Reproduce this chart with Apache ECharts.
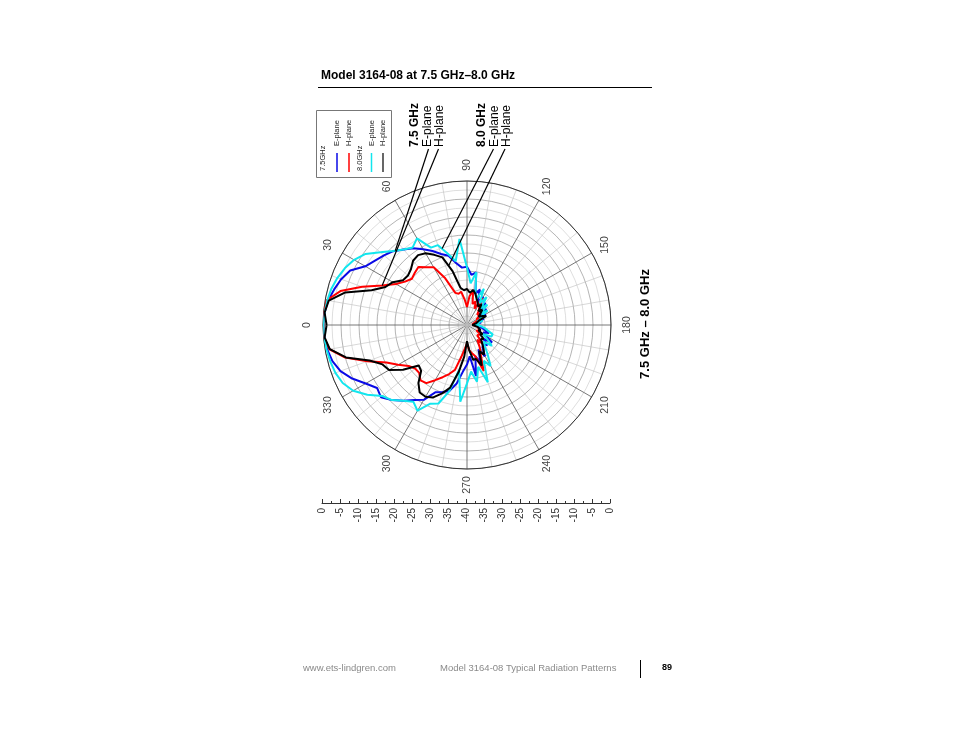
<!DOCTYPE html>
<html><head><meta charset="utf-8">
<script src="https://cdn.jsdelivr.net/npm/echarts@6/dist/echarts.min.js"></script>
<style>html,body{margin:0;padding:0;background:#fff}#c{width:954px;height:738px}</style>
</head><body><div id="c"></div>
<script>
// Angles (degrees) of the measured points, 0..360 in 5 degree steps
const angles = [];
for (let a = 0; a <= 360; a += 5) angles.push(a);

// 7.5 GHz E-plane (dB)
const e75 = [-0.1,-0.3,-0.8,-1.8,-2.8,-4.2,-7.4,-8.8,-9.9,-11.0,-12.6,-14.0,-15.7,-17.3,-19.0,-20.1,-22.5,-24.0,
  -23.8,-26.0,-25.2,-31.0,-29.5,-33.0,-31.0,-34.0,-32.0,-35.0,-33.0,-35.5,-34.0,-36.0,-35.0,-37.0,-36.0,-38.0,
  -38.5,-37.0,-36.0,-35.0,-33.5,-35.0,-34.0,-31.5,-34.0,-32.0,-33.0,-32.5,-30.0,-32.5,-29.0,-31.0,-25.6,-31.3,
  -29.0,-27.0,-23.5,-21.0,-20.2,-19.4,-16.0,-14.6,-12.5,-10.5,-8.8,-9.5,-7.5,-4.8,-2.6,-1.3,-0.6,-0.3,-0.1];
// 7.5 GHz H-plane (dB)
const h75 = [-0.1,-0.1,-0.4,-3.6,-9.0,-14.0,-17.2,-19.0,-20.0,-19.5,-19.0,-20.4,-21.5,-25.7,-30.5,-31.0,-30.6,-33.0,
  -35.0,-32.0,-30.2,-34.0,-33.0,-35.0,-31.4,-34.0,-35.0,-36.0,-35.0,-36.2,-37.0,-36.0,-37.5,-37.0,-38.0,-38.5,
  -39.0,-38.0,-37.0,-36.5,-37.0,-36.0,-37.0,-35.5,-35.2,-36.0,-33.0,-35.0,-33.0,-31.0,-26.4,-31.0,-32.0,-33.0,
  -34.9,-33.5,-31.1,-27.1,-25.5,-24.0,-22.3,-20.3,-19.9,-21.2,-21.2,-20.2,-17.9,-15.3,-10.5,-5.0,-1.2,-0.1,-0.1];
// 8.0 GHz E-plane (dB)
const e80 = [-0.1,-0.3,-0.6,-1.0,-1.7,-2.6,-3.8,-5.6,-8.6,-10.9,-12.6,-13.7,-12.2,-16.3,-16.4,-19.5,-22.0,-16.0,
  -24.0,-28.4,-25.1,-31.0,-32.2,-28.9,-33.0,-30.5,-34.0,-32.0,-35.0,-33.0,-36.0,-34.5,-37.0,-35.5,-37.5,-36.5,
  -38.0,-36.0,-35.0,-34.0,-32.4,-32.5,-35.0,-33.0,-31.0,-33.5,-32.2,-30.0,-26.9,-29.0,-23.1,-28.0,-24.0,-27.0,
  -23.8,-18.6,-27.3,-20.9,-16.8,-15.9,-12.5,-14.0,-12.5,-10.5,-9.3,-6.2,-3.5,-1.9,-1.1,-0.7,-0.4,-0.2,-0.1];
// 8.0 GHz H-plane (dB)
const h80 = [-1.0,-0.3,-1.0,-5.0,-11.8,-15.0,-16.2,-18.3,-18.6,-18.0,-16.7,-16.3,-17.0,-18.5,-20.0,-24.5,-29.5,-30.3,
  -30.0,-31.0,-30.1,-31.0,-32.2,-33.0,-34.0,-33.0,-35.0,-34.0,-34.2,-36.0,-35.0,-34.1,-36.5,-37.0,-37.5,-38.0,
  -38.5,-38.0,-37.0,-37.5,-36.0,-36.5,-35.0,-35.5,-34.0,-34.5,-33.5,-32.0,-30.5,-32.0,-28.0,-30.2,-30.2,-33.0,
  -35.5,-31.2,-26.8,-22.0,-19.8,-17.8,-17.0,-17.1,-19.0,-22.0,-22.5,-18.3,-15.0,-14.1,-11.2,-5.2,-1.3,-0.3,-1.0];

// Tick labels
const angleLabels = ['0','30','60','90','120','150','180','210','240','270','300','330'];
const angleTickValues = [0,30,60,90,120,150,180,210,240,270,300,330];
const scaleLabels = ['0','-5','-10','-15','-20','-25','-30','-35','-40','-35','-30','-25','-20','-15','-10','-5','0'];

const FONT = '"Liberation Sans", Arial, sans-serif';
const CX = 467, CY = 325, R = 144;

const chart = echarts.init(document.getElementById('c'), null, {renderer: 'canvas'});

function mk(name, vals, color, z) {
  return {
    name, type: 'line', coordinateSystem: 'polar', polarIndex: 0,
    data: angles.map((a, i) => [vals[i], a]),
    showSymbol: false, symbol: 'none', smooth: false, z,
    lineStyle: {color, width: 2}, animation: false, silent: true
  };
}

chart.setOption({
  animation: false,
  backgroundColor: '#fff',
  polar: {center: [CX, CY], radius: R},
  angleAxis: {
    type: 'value', min: 0, max: 360, interval: 30, startAngle: 180, clockwise: true,
    axisLine: {lineStyle: {color: '#333', width: 1}},
    axisTick: {show: false}, axisLabel: {show: false},
    splitLine: {show: true, lineStyle: {color: '#555', width: 0.8}},
    minorTick: {show: false, splitNumber: 3},
    minorSplitLine: {show: true, lineStyle: {color: '#bdbdbd', width: 0.6}}
  },
  radiusAxis: {
    type: 'value', min: -40, max: 0, interval: 5,
    axisLine: {show: false}, axisTick: {show: false}, axisLabel: {show: false},
    splitLine: {show: true, lineStyle: {color: '#949494', width: 0.7}},
    minorTick: {show: false, splitNumber: 2},
    minorSplitLine: {show: true, lineStyle: {color: '#c8c8c8', width: 0.6}}
  },
  grid: {left: 322, width: 288, top: 502, height: 1},
  xAxis: {
    type: 'value', min: 0, max: 80, interval: 5, position: 'bottom',
    axisLine: {lineStyle: {color: '#333', width: 1}},
    axisTick: {inside: true, length: 4, lineStyle: {color: '#333'}},
    minorTick: {show: true, splitNumber: 2, length: 2, lineStyle: {color: '#333'}},
    splitLine: {show: false},
    axisLabel: {rotate: 90, margin: 5, fontSize: 10, color: '#333', fontFamily: FONT,
      formatter: v => scaleLabels[Math.round(v / 5)]}
  },
  yAxis: {type: 'value', show: false, min: 0, max: 1},
  series: [mk('7.5 GHz E-plane', e75, '#0a0ae6', 2), mk('7.5 GHz H-plane', h75, '#ff0000', 3),
           mk('8.0 GHz E-plane', e80, '#12e6ee', 4), mk('8.0 GHz H-plane', h80, '#000000', 5)]
});

function interp(vals, ang) {
  const i = Math.floor(ang / 5), f = (ang - i * 5) / 5;
  return vals[i] + (vals[i + 1] - vals[i]) * f;
}
function px(si, vals, ang) {
  return chart.convertToPixel({seriesIndex: si}, [interp(vals, ang), ang]);
}

const g = [];
function txt(text, x, y, opts) {
  g.push(Object.assign({type: 'text', x, y, silent: true, z: 100,
    style: Object.assign({text, fill: '#000', fontSize: 11, fontFamily: FONT, align: 'left', verticalAlign: 'middle'}, opts.style || {})},
    opts.rotation != null ? {rotation: opts.rotation} : {}));
}
function line(x1, y1, x2, y2, color, w) {
  g.push({type: 'line', silent: true, z: 100, shape: {x1, y1, x2, y2}, style: {stroke: color, lineWidth: w}});
}
const ROT = Math.PI / 2;

// Title + rule
txt('Model 3164-08 at 7.5 GHz\u20138.0 GHz', 321, 76, {style: {fontSize: 12, fontWeight: 'bold'}});
line(318, 87.5, 652, 87.5, '#000', 1);

// Angle labels
angleTickValues.forEach((a, i) => {
  const th = a * Math.PI / 180, rr = R + 16;
  txt(angleLabels[i], CX - rr * Math.cos(th), CY - rr * Math.sin(th),
    {rotation: ROT, style: {fontSize: 10.5, fill: '#444', align: 'center'}});
});

// Legend box
g.push({type: 'rect', silent: true, z: 100, shape: {x: 316.5, y: 110.5, width: 75, height: 67},
  style: {fill: 'none', stroke: '#777', lineWidth: 1}});
const LF = 7.5;
txt('7.5GHz', 323, 171, {rotation: ROT, style: {fontSize: LF, fill: '#222'}});
line(337, 153, 337, 172, '#0a0ae6', 1.5); txt('E-plane', 337, 146, {rotation: ROT, style: {fontSize: LF, fill: '#222'}});
line(349, 153, 349, 172, '#ff0000', 1.5); txt('H-plane', 349, 146, {rotation: ROT, style: {fontSize: LF, fill: '#222'}});
txt('8.0GHz', 360, 171, {rotation: ROT, style: {fontSize: LF, fill: '#222'}});
line(371.5, 153, 371.5, 172, '#12e6ee', 1.5); txt('E-plane', 371.5, 146, {rotation: ROT, style: {fontSize: LF, fill: '#222'}});
line(383, 153, 383, 172, '#000', 1.2); txt('H-plane', 383, 146, {rotation: ROT, style: {fontSize: LF, fill: '#222'}});

// Annotations
txt('7.5 GHz', 415, 147, {rotation: ROT, style: {fontSize: 12, fontWeight: 'bold'}});
txt('E-plane', 428, 147, {rotation: ROT, style: {fontSize: 12}});
txt('H-plane', 440, 147, {rotation: ROT, style: {fontSize: 12}});
txt('8.0 GHz', 482, 147, {rotation: ROT, style: {fontSize: 12, fontWeight: 'bold'}});
txt('E-plane', 495, 147, {rotation: ROT, style: {fontSize: 12}});
txt('H-plane', 507, 147, {rotation: ROT, style: {fontSize: 12}});

const pE75 = px(0, e75, 46), pH75 = px(1, h75, 25), pE80 = px(2, e80, 72), pH80 = px(3, h80, 73);
line(428.5, 149, pE75[0], pE75[1], '#000', 1.2);
line(438.5, 149, pH75[0], pH75[1], '#000', 1.2);
line(493.5, 149, pE80[0], pE80[1], '#000', 1.2);
line(505, 149, pH80[0], pH80[1], '#000', 1.2);

// Right side title
txt('7.5 GHz \u2013 8.0 GHz', 645, 324, {rotation: ROT, style: {fontSize: 13, fontWeight: 'bold', align: 'center'}});

// Footer
txt('www.ets-lindgren.com', 303, 668, {style: {fontSize: 9.5, fill: '#8a8a8a'}});
txt('Model 3164-08 Typical Radiation Patterns', 440, 668, {style: {fontSize: 9.5, fill: '#8a8a8a'}});
line(640.5, 660, 640.5, 678, '#000', 1);
txt('89', 662, 668, {style: {fontSize: 9, fontWeight: 'bold'}});

chart.setOption({graphic: g});
</script></body></html>
